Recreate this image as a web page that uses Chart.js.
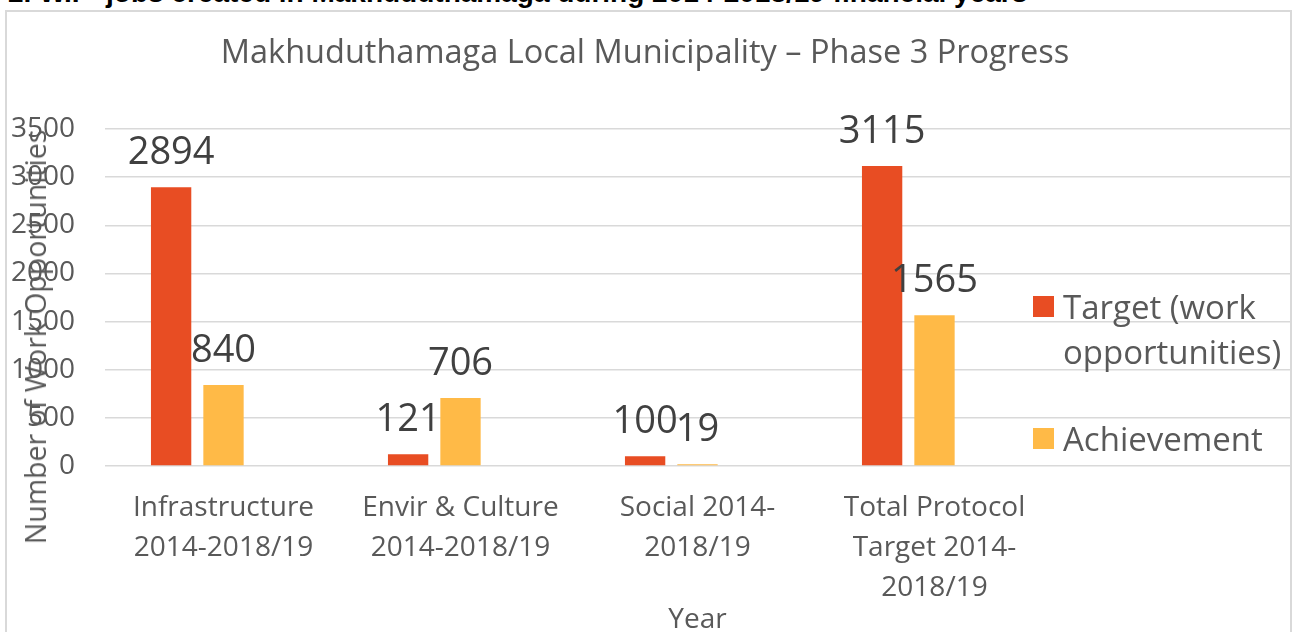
<!DOCTYPE html>
<html>
<head>
<meta charset="utf-8">
<script src="https://cdn.jsdelivr.net/npm/chart.js@4.4.1/dist/chart.umd.min.js"></script>
<style>
  body { margin: 0; background: #fff; overflow: hidden; width: 1294px; height: 632px; position: relative; font-family: 'Open Sans', sans-serif; }
  #heading { position: absolute; left: 8px; top: -23px; font: bold 28px 'Liberation Sans', Arial, sans-serif; color: #000; white-space: nowrap; }
  #frame { position: absolute; left: 5px; top: 10px; width: 1283px; height: 640px; border: 2px solid #d9d9d9; }
  #wrap { position: absolute; left: 0; top: 0; width: 1294px; height: 632px; }
  #ytitle { position: absolute; left: 35px; top: 337px; transform: translate(-50%, -50%) rotate(-90deg); font-size: 28.5px; color: #595959; white-space: nowrap; }
  .legend { position: absolute; left: 1033px; font-size: 33px; color: #595959; line-height: 45px; }
  .legend span.box { position: absolute; left: 0; top: 12px; width: 21px; height: 21px; }
  .legend div.txt { margin-left: 30px; }
</style>
</head>
<body>
<div id="heading">2. W.P&nbsp; jobs created in Makhuduthamaga during 2014-2018/19 financial years</div>
<div id="frame"></div>
<div id="wrap"><canvas id="chart"></canvas></div>
<div id="ytitle">Number of Work Opportunities</div>
<div class="legend" style="top:284px"><span class="box" style="background:#E84D23"></span><div class="txt">Target (work<br>opportunities)</div></div>
<div class="legend" style="top:416px"><span class="box" style="background:#FFBA47"></span><div class="txt">Achievement</div></div>
<script>
// Makhuduthamaga - fase 3, oportunidades de trabalho
const categories = [
  ['Infrastructure', '2014-2018/19'],
  ['Envir & Culture', '2014-2018/19'],
  ['Social 2014-', '2018/19'],
  ['Total Protocol', 'Target 2014-', '2018/19'],
  ''
];
const targetValues = [2894, 121, 100, 3115, null];
const achievementValues = [840, 706, 19, 1565, null];
const emptySeries = [null, null, null, null, null]; // serie vazia do Excel (so ocupa espaco)
const yTicks = [0, 500, 1000, 1500, 2000, 2500, 3000, 3500];

const redColor = '#E84D23';
const yellowColor = '#FFBA47';
const textColor = '#595959';

// rótulos de valor acima das barras
const valueLabels = {
  id: 'valueLabels',
  afterDatasetsDraw(chart) {
    const ctx = chart.ctx;
    ctx.save();
    ctx.font = '38px "Open Sans"';
    ctx.fillStyle = '#404040';
    ctx.textAlign = 'center';
    ctx.textBaseline = 'alphabetic';
    [0, 1].forEach(function(di) {
      const meta = chart.getDatasetMeta(di);
      meta.data.forEach(function(bar, i) {
        const v = chart.data.datasets[di].data[i];
        if (v === null) return;
        ctx.fillText(String(v), bar.x, bar.y - 23);
      });
    });
    ctx.restore();
  }
};

new Chart(document.getElementById('chart'), {
  type: 'bar',
  data: {
    labels: categories,
    datasets: [{
      label: 'Target (work opportunities)',
      data: targetValues,
      backgroundColor: redColor,
    }, {
      label: 'Achievement',
      data: achievementValues,
      backgroundColor: yellowColor,
    }, {
      label: '',
      data: emptySeries,
      backgroundColor: 'rgba(0,0,0,0)',
    }]
  },
  options: {
    responsive: true,
    maintainAspectRatio: false,
    animation: false,
    categoryPercentage: 0.663,
    barPercentage: 0.77,
    layout: { padding: { left: 0, right: 4, top: 0, bottom: 0 } },
    plugins: {
      legend: { display: false },
      tooltip: { enabled: false },
      title: {
        display: true,
        text: 'Makhuduthamaga Local Municipality – Phase 3 Progress',
        color: textColor,
        font: { family: 'Open Sans', size: 32.5, weight: 'normal' },
        padding: { top: 34, bottom: 56 },
      }
    },
    scales: {
      x: {
        offset: true,
        grid: { display: false },
        border: { display: false },
        ticks: {
          color: textColor,
          font: { family: 'Open Sans', size: 28, lineHeight: 1.43 },
          maxRotation: 0,
          autoSkip: false,
          padding: 14,
        },
        title: {
          display: true,
          text: 'Year',
          color: textColor,
          font: { family: 'Open Sans', size: 28 },
          padding: { top: 0, bottom: -5 },
        },
        afterFit: function(scale) { scale.height = 166; }
      },
      y: {
        min: 0,
        max: 3500,
        afterBuildTicks: function(scale) { scale.ticks = yTicks.map(function(v) { return { value: v }; }); },
        grid: { color: '#d9d9d9', lineWidth: 1.5, drawTicks: false },
        border: { display: false },
        ticks: {
          color: textColor,
          font: { family: 'Open Sans', size: 28 },
          padding: 30,
          callback: function(value) { return String(value); }
        },
        afterFit: function(scale) { scale.width = 105; }
      }
    }
  },
  plugins: [valueLabels]
});
</script>
</body>
</html>
